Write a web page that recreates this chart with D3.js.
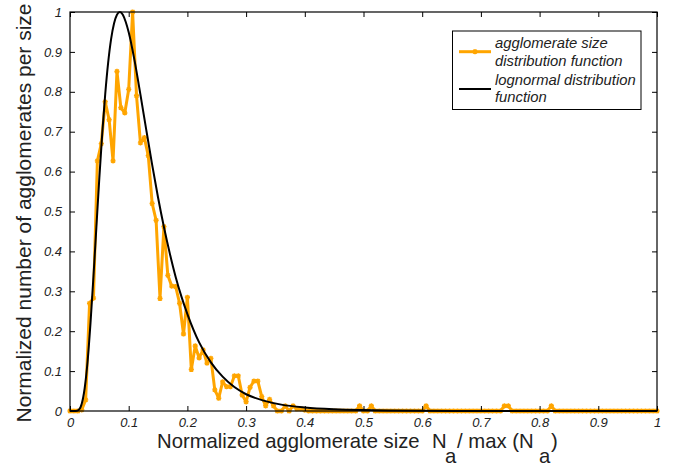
<!DOCTYPE html>
<html>
<head>
<meta charset="utf-8">
<script src="https://cdn.jsdelivr.net/npm/d3@7"></script>
<style>
  html, body { margin: 0; padding: 0; background: #fff; }
  svg { display: block; }
  text { font-family: "Liberation Sans", Arial, Helvetica, sans-serif; fill: #222; }
</style>
</head>
<body>
<svg id="chart" width="674" height="466"></svg>
<script>
// ---- data ----
// agglomerate size distribution sampled every 1/150 of the normalized size
const sizeStep = 1 / 150;
const aggValues = [
  0, 0, 0, 0.003, 0.028, 0.27, 0.283, 0.627, 0.67, 0.775,
  0.73, 0.627, 0.851, 0.76, 0.747, 0.806, 1.0, 0.79, 0.672, 0.685,
  0.64, 0.52, 0.478, 0.282, 0.462, 0.34, 0.313, 0.312, 0.27, 0.193,
  0.285, 0.104, 0.163, 0.133, 0.153, 0.12, 0.132, 0.053, 0.032, 0.073,
  0.061, 0.061, 0.088, 0.088, 0.04, 0.023, 0.059, 0.075, 0.075, 0.036,
  0.013, 0.029, 0.013, 0, 0, 0.013, 0, 0.013, 0.005, 0.005,
  0.002, 0, 0, 0, 0, 0, 0, 0, 0, 0,
  0, 0, 0, 0, 0.013, 0, 0, 0.013, 0, 0,
  0, 0, 0, 0, 0, 0, 0, 0, 0, 0,
  0, 0.013, 0, 0, 0, 0, 0, 0, 0, 0,
  0, 0, 0, 0, 0, 0, 0, 0, 0, 0,
  0, 0.013, 0.013, 0, 0, 0, 0, 0, 0, 0,
  0, 0, 0, 0.013, 0, 0, 0, 0, 0, 0,
  0, 0, 0, 0, 0, 0, 0, 0, 0, 0,
  0, 0, 0, 0, 0, 0, 0, 0, 0, 0,
  0
];
// lognormal curve, read at these sizes
const logX = [0, 0.005, 0.01, 0.015, 0.02, 0.025, 0.03, 0.035, 0.04, 0.045, 0.05, 0.055, 0.06, 0.065,
  0.07, 0.075, 0.08, 0.085, 0.09, 0.095, 0.1, 0.11, 0.12, 0.13, 0.14, 0.15, 0.16, 0.17, 0.18, 0.19,
  0.2, 0.22, 0.24, 0.26, 0.28, 0.3, 0.33, 0.36, 0.4, 0.45, 0.5, 0.6, 0.7, 0.8, 0.9, 1.0];
const logY = [0, 0, 0.0002, 0.003, 0.018, 0.057, 0.125, 0.222, 0.338, 0.462, 0.585, 0.697, 0.794, 0.873,
  0.932, 0.971, 0.993, 1.0, 0.993, 0.975, 0.949, 0.878, 0.793, 0.704, 0.617, 0.535, 0.461, 0.395, 0.336, 0.286,
  0.243, 0.172, 0.122, 0.086, 0.06, 0.042, 0.026, 0.016, 0.009, 0.0045, 0.0023, 0.0006, 0.0002, 0.0001, 0, 0];
const xTicks = [0, 0.1, 0.2, 0.3, 0.4, 0.5, 0.6, 0.7, 0.8, 0.9, 1];
const xTickLabels = ["0", "0.1", "0.2", "0.3", "0.4", "0.5", "0.6", "0.7", "0.8", "0.9", "1"];
const yTicks = [0, 0.1, 0.2, 0.3, 0.4, 0.5, 0.6, 0.7, 0.8, 0.9, 1];
const yTickLabels = ["0", "0.1", "0.2", "0.3", "0.4", "0.5", "0.6", "0.7", "0.8", "0.9", "1"];
const legendLabels = [["agglomerate size", "distribution function"], ["lognormal distribution", "function"]];

// ---- drawing ----
const svg = d3.select("#chart");
const L = 70, R = 657, T = 12, B = 411;
const x = d3.scaleLinear().domain([0, 1]).range([L, R]);
const y = d3.scaleLinear().domain([0, 1]).range([B, T]);
const ORANGE = "#ffa500";

const aggData = aggValues.map((v, i) => [i * sizeStep, v]);
const logData = logX.map((v, i) => [v, logY[i]]);

// orange series
svg.append("path")
  .datum(aggData)
  .attr("fill", "none")
  .attr("stroke", ORANGE)
  .attr("stroke-width", 3)
  .attr("stroke-linejoin", "round")
  .attr("d", d3.line().x(d => x(d[0])).y(d => y(d[1])));

const star = "M-2.6,0H2.6M0,-2.6V2.6M-1.9,-1.9L1.9,1.9M-1.9,1.9L1.9,-1.9";
svg.append("g").selectAll("path")
  .data(aggData)
  .join("path")
  .attr("transform", d => `translate(${x(d[0])},${y(d[1])})`)
  .attr("d", star)
  .attr("stroke", ORANGE)
  .attr("stroke-width", 1.4)
  .attr("fill", "none");

// lognormal
svg.append("path")
  .datum(logData)
  .attr("fill", "none")
  .attr("stroke", "#000")
  .attr("stroke-width", 2)
  .attr("d", d3.line().curve(d3.curveMonotoneX).x(d => x(d[0])).y(d => y(d[1])));

// axes (ticks inward on all four sides)
function styleAxis(g) {
  g.select(".domain").remove();
  g.selectAll(".tick line").attr("stroke", "#000").attr("stroke-width", 1);
  g.selectAll(".tick text")
    .style("font-family", "'Liberation Sans', Arial, sans-serif")
    .style("font-style", "italic")
    .style("font-size", "13px")
    .attr("fill", "#222");
}
svg.append("g").attr("transform", `translate(0,${B})`)
  .call(d3.axisBottom(x).tickValues(xTicks).tickSize(-5).tickPadding(7)
    .tickFormat((d, i) => xTickLabels[i]))
  .call(styleAxis);
svg.append("g").attr("transform", `translate(0,${T})`)
  .call(d3.axisTop(x).tickValues(xTicks).tickSize(-5).tickFormat(""))
  .call(styleAxis);
svg.append("g").attr("transform", `translate(${L},0)`)
  .call(d3.axisLeft(y).tickValues(yTicks).tickSize(-5).tickPadding(8)
    .tickFormat((d, i) => yTickLabels[i]))
  .call(styleAxis);
svg.append("g").attr("transform", `translate(${R},0)`)
  .call(d3.axisRight(y).tickValues(yTicks).tickSize(-5).tickFormat(""))
  .call(styleAxis);

// box
svg.append("rect")
  .attr("x", L).attr("y", T).attr("width", R - L).attr("height", B - T)
  .attr("fill", "none").attr("stroke", "#000").attr("stroke-width", 1.2);

// axis titles
svg.append("text")
  .attr("transform", `translate(31,213) rotate(-90)`)
  .attr("text-anchor", "middle")
  .style("font-size", "21px")
  .text("Normalized number of agglomerates per size");

const XF = "20.3px";
function xPart(px, py, s) {
  svg.append("text").attr("x", px).attr("y", py).style("font-size", XF).text(s);
}
xPart(157, 448, "Normalized agglomerate size");
xPart(432, 448, "N");
xPart(445, 463, "a");
xPart(457, 448, "/ max (N");
xPart(539, 463, "a");
xPart(551, 448, ")");

// legend
const lg = svg.append("g");
lg.append("rect")
  .attr("x", 452.5).attr("y", 31).attr("width", 188.5).attr("height", 78.5)
  .attr("fill", "#fff").attr("stroke", "#000").attr("stroke-width", 1);
const legRows = [
  { color: ORANGE, width: 3, marker: true, ly: 51.7, t1: 47.5, t2: 65.5 },
  { color: "#000", width: 2, marker: false, ly: 89, t1: 85, t2: 102 }
];
legRows.forEach((r, i) => {
  lg.append("line").attr("x1", 459).attr("x2", 491).attr("y1", r.ly).attr("y2", r.ly)
    .attr("stroke", r.color).attr("stroke-width", r.width);
  if (r.marker) {
    lg.append("path").attr("transform", `translate(475,${r.ly})`).attr("d", star)
      .attr("stroke", r.color).attr("stroke-width", 1.4).attr("fill", "none");
  }
  lg.append("text").attr("x", 495).attr("y", r.t1)
    .style("font-style", "italic").style("font-size", "14.8px").text(legendLabels[i][0]);
  lg.append("text").attr("x", 495).attr("y", r.t2)
    .style("font-style", "italic").style("font-size", "14.8px").text(legendLabels[i][1]);
});
</script>
</body>
</html>
